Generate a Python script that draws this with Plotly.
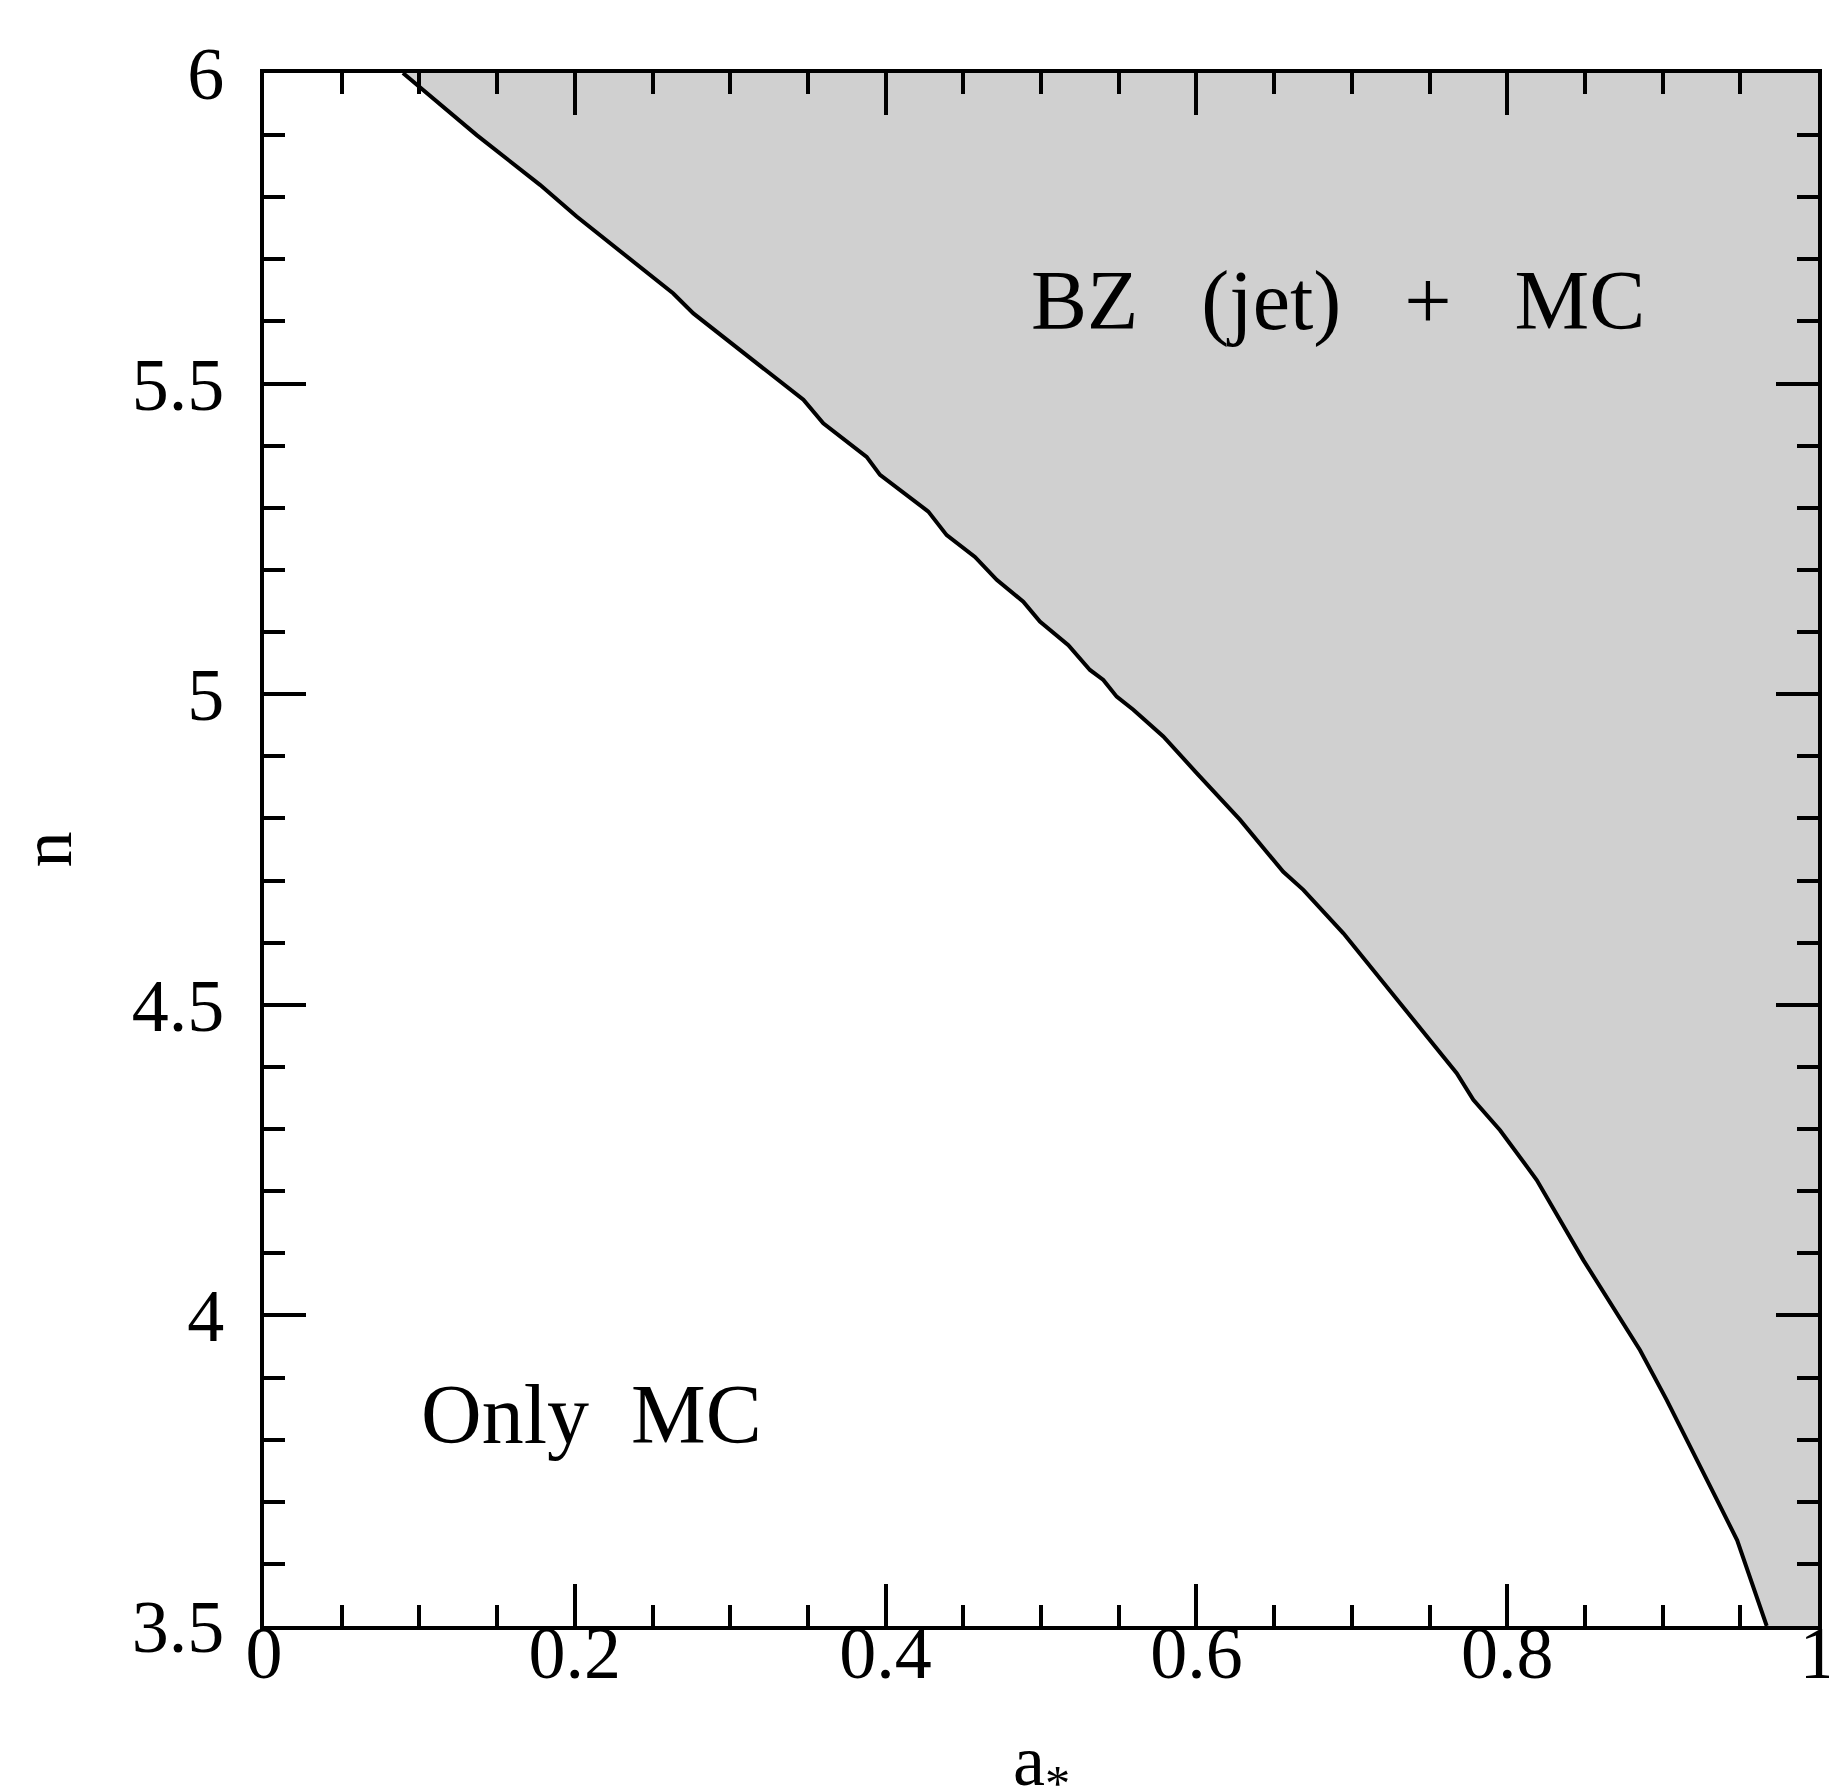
import plotly.graph_objects as go

# boundary curve (a_*, n)
a_vals = [0.0894, 0.1369, 0.1776, 0.2012, 0.2634, 0.2763, 0.3471, 0.3599, 0.3878, 0.3964,
          0.4275, 0.4393, 0.4575, 0.4715, 0.4886, 0.4993, 0.5176, 0.5315, 0.5401, 0.5487,
          0.5594, 0.5787, 0.6002, 0.6280, 0.6559, 0.6688, 0.6946, 0.7289, 0.7675, 0.7782,
          0.7954, 0.8190, 0.8490, 0.8855, 0.9026, 0.9350, 0.9480, 0.9670]
n_vals = [6.000, 5.900, 5.820, 5.769, 5.645, 5.613, 5.474, 5.436, 5.382, 5.353,
          5.294, 5.256, 5.221, 5.184, 5.149, 5.117, 5.079, 5.039, 5.023, 4.996,
          4.975, 4.932, 4.873, 4.798, 4.714, 4.685, 4.615, 4.508, 4.390, 4.347,
          4.298, 4.218, 4.089, 3.944, 3.864, 3.703, 3.638, 3.500]

x_ticks = [0, 0.2, 0.4, 0.6, 0.8, 1]
x_ticklabels = ["0", "0.2", "0.4", "0.6", "0.8", "1"]
y_ticks = [3.5, 4, 4.5, 5, 5.5, 6]
y_ticklabels = ["3.5", "4", "4.5", "5", "5.5", "6"]

x_title = "a<sub>*</sub>"
y_title = "n"

SP = "\u00a0"
region_labels = ["BZ" + SP * 3 + "(jet)" + SP * 3 + "+" + SP * 3 + "MC", "Only" + SP * 2 + "MC"]
region_pos = [(0.6908, 5.633), (0.2107, 3.841)]

FONT = "Liberation Serif"

fig = go.Figure()

# shaded region (BZ + MC): right/above the boundary
poly_x = a_vals + [1.0, 1.0, a_vals[0]]
poly_y = n_vals + [3.5, 6.0, n_vals[0]]
fig.add_trace(go.Scatter(x=poly_x, y=poly_y, mode="lines", fill="toself",
                         fillcolor="#d0d0d0", line=dict(width=0),
                         hoverinfo="skip", showlegend=False))
fig.add_trace(go.Scatter(x=a_vals, y=n_vals, mode="lines",
                         line=dict(color="black", width=4),
                         showlegend=False))

for txt, (xx, yy) in zip(region_labels, region_pos):
    fig.add_annotation(x=xx, y=yy, text=txt, showarrow=False,
                       xanchor="center", yanchor="middle",
                       font=dict(family=FONT, size=84, color="black"))

# axis titles
fig.add_annotation(x=0.5, y=0, xref="paper", yref="paper", text=x_title,
                   showarrow=False, xanchor="center", yanchor="middle", yshift=-140,
                   font=dict(family=FONT, size=72, color="black"))
fig.add_annotation(x=0, y=0.5, xref="paper", yref="paper", text=y_title,
                   showarrow=False, xanchor="center", yanchor="middle", xshift=-218,
                   textangle=-90,
                   font=dict(family=FONT, size=72, color="black"))

axis_common = dict(showline=True, linecolor="black", linewidth=4, mirror="ticks",
                   ticks="inside", ticklen=42, tickwidth=4, tickcolor="black",
                   showgrid=False, zeroline=False, ticklabeloverflow="allow",
                   tickfont=dict(family=FONT, size=74, color="black"))

fig.update_xaxes(range=[0, 1], tickvals=x_ticks, ticktext=x_ticklabels,
                 minor=dict(ticks="inside", ticklen=21, tickwidth=4, tickcolor="black",
                            dtick=0.05, showgrid=False),
                 ticklabelstandoff=-41,
                 **axis_common)
fig.update_yaxes(range=[3.5, 6], tickvals=y_ticks, ticktext=y_ticklabels,
                 minor=dict(ticks="inside", ticklen=21, tickwidth=4, tickcolor="black",
                            dtick=0.1, showgrid=False),
                 ticklabelstandoff=21,
                 **axis_common)

fig.update_layout(width=1829, height=1787,
                  margin=dict(l=264, r=11, t=73, b=161, autoexpand=False),
                  paper_bgcolor="white", plot_bgcolor="white",
                  showlegend=False)

fig.write_html("out.html")
